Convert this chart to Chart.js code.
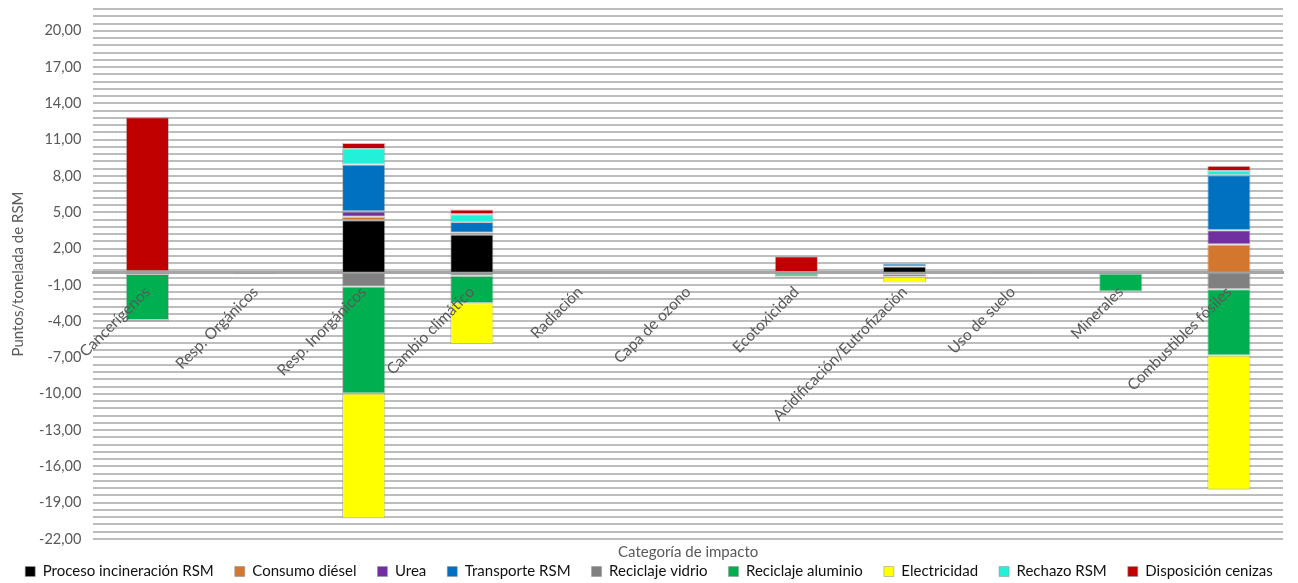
<!DOCTYPE html>
<html lang="es">
<head>
<meta charset="utf-8">
<title>Categoría de impacto</title>
<script src="https://cdn.jsdelivr.net/npm/chart.js@4.4.1/dist/chart.umd.min.js"></script>
<style>
  html, body { margin: 0; padding: 0; background: #fff; }
  #wrap { width: 1298px; height: 583px; }
</style>
</head>
<body>
<div id="wrap"><canvas id="impacto" width="1298" height="583"></canvas></div>
<script>
// categorías de impacto (eje horizontal)
const categorias = ['Cancerígenos', 'Resp. Orgánicos', 'Resp. Inorgánicos', 'Cambio climático',
  'Radiación', 'Capa de ozono', 'Ecotoxicidad', 'Acidificación/Eutrofización',
  'Uso de suelo', 'Minerales', 'Combustibles fósiles'];

// puntos por tonelada de RSM, una serie por proceso
const procesoIncineracion = [0, 0, 4.35, 3.16, 0, 0, 0, 0.53, 0, 0, 0.03];
const consumoDiesel       = [0, 0, 0.28, 0.03, 0, 0, 0, 0, 0, 0, 2.30];
const urea                = [0, 0, 0.44, 0.11, 0, 0, 0, 0, 0, 0, 1.19];
const transporteRSM       = [0, 0, 3.88, 0.89, 0, 0, 0, 0.23, 0, 0, 4.54];
const reciclajeVidrio     = [-0.10, -0.01, -1.13, -0.24, 0, 0, -0.05, -0.10, -0.02, -0.06, -1.35];
const reciclajeAluminio   = [-3.80, 0, -8.85, -2.27, -0.06, 0, -0.25, -0.22, -0.04, -1.48, -5.48];
const electricidad        = [-0.15, -0.08, -10.32, -3.40, 0, 0, -0.13, -0.48, 0, 0, -11.10];
const rechazoRSM          = [0.12, 0, 1.27, 0.64, 0, 0, 0.06, 0, 0, 0, 0.36];
const disposicionCenizas  = [12.74, 0, 0.50, 0.41, 0, 0, 1.30, 0, 0, 0, 0.42];

// eje vertical: etiquetas cada 3 desde -22, líneas de división cada 0,6
const yMin = -22;
const yMax = 21.8;
const yPasoEtiqueta = 3;
const yPasoLinea = 0.6;

const fuente = 'Lato, "Open Sans", sans-serif';
const gris = '#595959';

const series = [
  ['Proceso incineración RSM', procesoIncineracion, '#000000'],
  ['Consumo diésel', consumoDiesel, '#d2772d'],
  ['Urea', urea, '#7030a0'],
  ['Transporte RSM', transporteRSM, '#0070c0'],
  ['Reciclaje vidrio', reciclajeVidrio, '#808080'],
  ['Reciclaje aluminio', reciclajeAluminio, '#00b050'],
  ['Electricidad', electricidad, '#ffff00'],
  ['Rechazo RSM', rechazoRSM, '#22f0d8'],
  ['Disposición cenizas', disposicionCenizas, '#c00000']
];

const datasets = series.map(([label, data, color]) => ({
  label: label,
  data: data,
  backgroundColor: color,
  borderColor: 'rgba(150,150,150,0.55)',
  borderWidth: 1,
  borderSkipped: false,
  categoryPercentage: 0.8,
  barPercentage: 0.5
}));

function formatoComa(v) {
  return v.toFixed(2).replace('.', ',');
}

// la leyenda se dibuja justo bajo el título del eje (su padding deja mucho hueco arriba)
const subirLeyenda = {
  id: 'subirLeyenda',
  afterLayout(chart) {
    const leyenda = chart.legend;
    leyenda.bottom = chart.height;
    leyenda.top = leyenda.bottom - 40;
  }
};

new Chart(document.getElementById('impacto'), {
  type: 'bar',
  data: { labels: categorias, datasets: datasets },
  plugins: [subirLeyenda],
  options: {
    responsive: false,
    animation: false,
    layout: { padding: { left: 0, right: 0, top: 9, bottom: 0 } },
    plugins: {
      tooltip: { enabled: false },
      title: {
        display: true,
        text: 'Categoría de impacto',
        position: 'bottom',
        fullSize: false,
        weight: 500,
        color: gris,
        font: { family: fuente, size: 15, weight: 'normal' },
        padding: { top: 4, bottom: 0 }
      },
      legend: {
        position: 'bottom',
        maxHeight: 22,
        labels: {
          color: '#111',
          boxWidth: 10,
          boxHeight: 10,
          padding: 21,
          font: { family: fuente, size: 15 }
        }
      }
    },
    scales: {
      x: {
        stacked: true,
        position: { y: 0 },
        grid: { display: false },
        border: { display: true, color: '#a6a6a6', width: 3 },
        ticks: {
          z: 1,  // nombres de categoría por encima de las barras
          autoSkip: false,
          minRotation: 45,
          maxRotation: 45,
          padding: 2,
          color: gris,
          font: { family: fuente, size: 15.5 }
        },
        afterFit: (scale) => {
          scale.height = 0;
          scale.paddingLeft = 0;
          scale.paddingRight = 15;
        }
      },
      y: {
        stacked: true,
        min: yMin,
        max: yMax,
        border: { display: false },
        grid: { color: '#bdbdbd', lineWidth: 2, drawTicks: false },
        afterBuildTicks: (scale) => {
          const ticks = [];
          for (let i = 0; ; i++) {
            const v = Math.round((yMin + i * yPasoLinea) * 100) / 100;
            if (v > yMax + 1e-9) break;
            ticks.push({ value: v });
          }
          scale.ticks = ticks;
        },
        afterFit: (scale) => {
          scale.paddingTop = 0;
        },
        ticks: {
          autoSkip: false,
          padding: 12,
          color: gris,
          font: { family: fuente, size: 14.5 },
          callback: (v, i) => (i % Math.round(yPasoEtiqueta / yPasoLinea) === 0 ? formatoComa(v) : '')
        },
        title: {
          display: true,
          text: 'Puntos/tonelada de RSM',
          color: gris,
          font: { family: fuente, size: 15 },
          padding: { top: 9, bottom: 0 }
        }
      }
    }
  }
});
</script>
</body>
</html>
